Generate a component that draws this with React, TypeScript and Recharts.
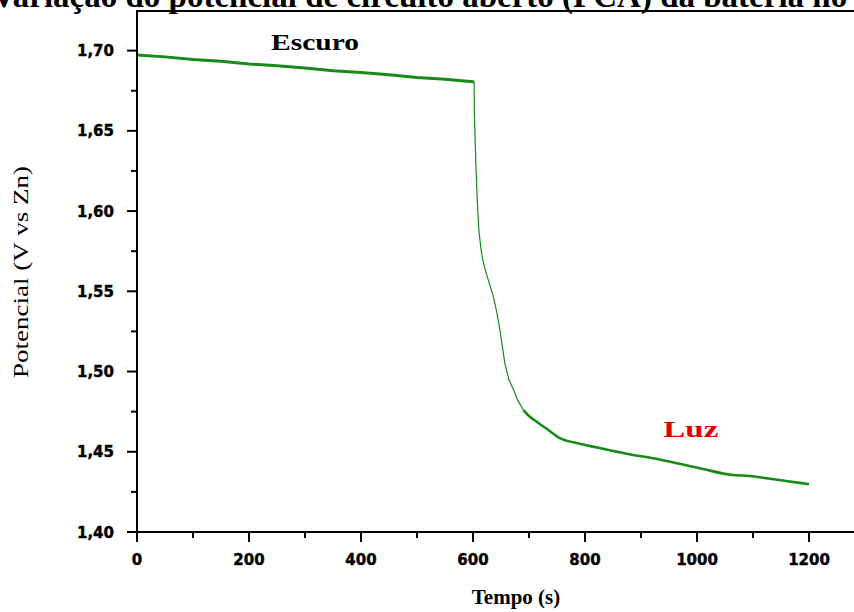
import { LineChart, Line, XAxis, YAxis, ReferenceDot } from "recharts";

// Eixo X (tempo, s)
const ticksTempo = [0, 100, 200, 300, 400, 500, 600, 700, 800, 900, 1000, 1100, 1200, 1300];
const rotulosTempo = [0, 200, 400, 600, 800, 1000, 1200];

// Eixo Y (potencial, V vs Zn)
const ticksPotencial = [1.4, 1.425, 1.45, 1.475, 1.5, 1.525, 1.55, 1.575, 1.6, 1.625, 1.65, 1.675, 1.7];
const rotulosPotencial = [1.4, 1.45, 1.5, 1.55, 1.6, 1.65, 1.7];

// fase no escuro
const escuroTempo = [0, 50, 100, 150, 200, 250, 300, 350, 400, 450, 500, 550, 600, 602];
const escuroPotencial = [1.6973, 1.6961, 1.6945, 1.6933, 1.6917, 1.6905, 1.6891, 1.6874, 1.6863, 1.6849, 1.6832, 1.6821, 1.6806, 1.6805];

// queda ao ligar a luz
const quedaTempo = [602, 602.5, 605, 607.7, 610.4, 614, 617.5, 623, 630, 636, 642.5, 648, 657, 664, 672, 680, 690];
const quedaPotencial = [1.6805, 1.66, 1.6306, 1.6057, 1.5883, 1.5771, 1.5696, 1.562, 1.554, 1.547, 1.537, 1.526, 1.505, 1.495, 1.489, 1.482, 1.476];

// fase sob luz
const luzTempo = [690, 701, 713, 734, 755, 785, 826, 874, 933, 1005, 1064, 1094, 1124, 1159, 1200];
const luzPotencial = [1.476, 1.472, 1.4689, 1.4637, 1.4585, 1.4554, 1.4523, 1.4488, 1.4452, 1.4397, 1.4355, 1.4349, 1.4335, 1.4318, 1.4298];

const escuro = escuroTempo.map((t, i) => ({ tempo: t, potencial: escuroPotencial[i] }));
const queda = quedaTempo.map((t, i) => ({ tempo: t, potencial: quedaPotencial[i] }));
const luz = luzTempo.map((t, i) => ({ tempo: t, potencial: luzPotencial[i] }));

const VERDE = "#188a18";
const SERIF = '"Liberation Serif", "Times New Roman", serif';
const SANS = '"DejaVu Sans", sans-serif';

function TickTempo(props: any) {
  const { x, y, payload } = props;
  const major = rotulosTempo.includes(payload.value);
  return (
    <g>
      <line x1={x} x2={x} y1={y} y2={y + (major ? 10 : 6)} stroke="#000" strokeWidth={2} />
      {major && (
        <text x={x} y={y + 33} textAnchor="middle" fontFamily={SANS} fontWeight="bold" fontSize={15} fill="#000" stroke="#000" strokeWidth={0.4}>
          {payload.value}
        </text>
      )}
    </g>
  );
}

function TickPotencial(props: any) {
  const { x, y, payload } = props;
  const major = rotulosPotencial.some((v) => Math.abs(v - payload.value) < 1e-6);
  return (
    <g>
      <line x1={x} x2={x - (major ? 10 : 6)} y1={y} y2={y} stroke="#000" strokeWidth={2} />
      {major && (
        <text x={x - 23} y={y + 5.5} textAnchor="end" fontFamily={SANS} fontWeight="bold" fontSize={15} fill="#000" stroke="#000" strokeWidth={0.4}>
          {payload.value.toFixed(2).replace(".", ",")}
        </text>
      )}
    </g>
  );
}

const anotacao = (texto: string, cor: string, largura: number) => (props: any) => {
  const { viewBox } = props;
  return (
    <text
      x={viewBox.x}
      y={viewBox.y}
      textAnchor="middle"
      fontFamily={SERIF}
      fontWeight="bold"
      fontSize={23}
      fill={cor}
      textLength={largura}
      lengthAdjust="spacingAndGlyphs"
    >
      {texto}
    </text>
  );
};

export default function App() {
  return (
    <div
      style={{
        position: "absolute",
        left: 0,
        top: 0,
        width: 854,
        height: 612,
        overflow: "hidden",
        background: "#fff",
      }}
    >
      <svg width={854} height={20} style={{ position: "absolute", left: 0, top: 0 }}>
        <text x={-8} y={7} fontFamily={SERIF} fontWeight="bold" fontSize={33} fill="#000">
          Variação do potencial de circuito aberto (PCA) da bateria no escuro e sob luz
        </text>
      </svg>
      <LineChart width={900} height={612} margin={{ top: 10.5, right: 35, bottom: 0, left: 0 }}>
        <XAxis
          dataKey="tempo"
          type="number"
          domain={[0, 1300]}
          ticks={ticksTempo}
          interval={0}
          height={80}
          tickSize={0}
          tickMargin={0}
          tick={<TickTempo />}
          axisLine={{ stroke: "#000", strokeWidth: 2 }}
          allowDataOverflow
          label={{
            content: () => (
              <text x={516} y={604} textAnchor="middle" fontFamily={SERIF} fontWeight="bold" fontSize={21} fill="#000">
                Tempo (s)
              </text>
            ),
          }}
        />
        <YAxis
          type="number"
          domain={[1.4, 1.725]}
          ticks={ticksPotencial}
          interval={0}
          width={137}
          tickSize={0}
          tickMargin={0}
          tick={<TickPotencial />}
          axisLine={{ stroke: "#000", strokeWidth: 2 }}
          allowDataOverflow
          label={{
            content: () => (
              <text
                x={28}
                y={272}
                transform="rotate(-90 28 272)"
                textAnchor="middle"
                fontFamily={SERIF}
                fontSize={20}
                fill="#000"
                textLength={212}
                lengthAdjust="spacingAndGlyphs"
              >
                Potencial (V vs Zn)
              </text>
            ),
          }}
        />
        <Line data={escuro} dataKey="potencial" type="linear" stroke={VERDE} strokeWidth={3} dot={false} isAnimationActive={false} />
        <Line data={queda} dataKey="potencial" type="linear" stroke={VERDE} strokeWidth={1.2} dot={false} isAnimationActive={false} />
        <Line data={luz} dataKey="potencial" type="monotone" stroke={VERDE} strokeWidth={2.6} dot={false} isAnimationActive={false} />
        <ReferenceDot x={318} y={1.7004} r={0} fill="none" stroke="none" label={{ content: anotacao("Escuro", "#000", 88) }} />
        <ReferenceDot x={989} y={1.4592} r={0} fill="none" stroke="none" label={{ content: anotacao("Luz", "#e00000", 55) }} />
      </LineChart>
      {/* moldura superior do quadro */}
      <div
        style={{
          position: "absolute",
          left: 136,
          top: 9.5,
          width: 730,
          height: 2,
          background: "#000",
          zIndex: 2,
        }}
      />
    </div>
  );
}
